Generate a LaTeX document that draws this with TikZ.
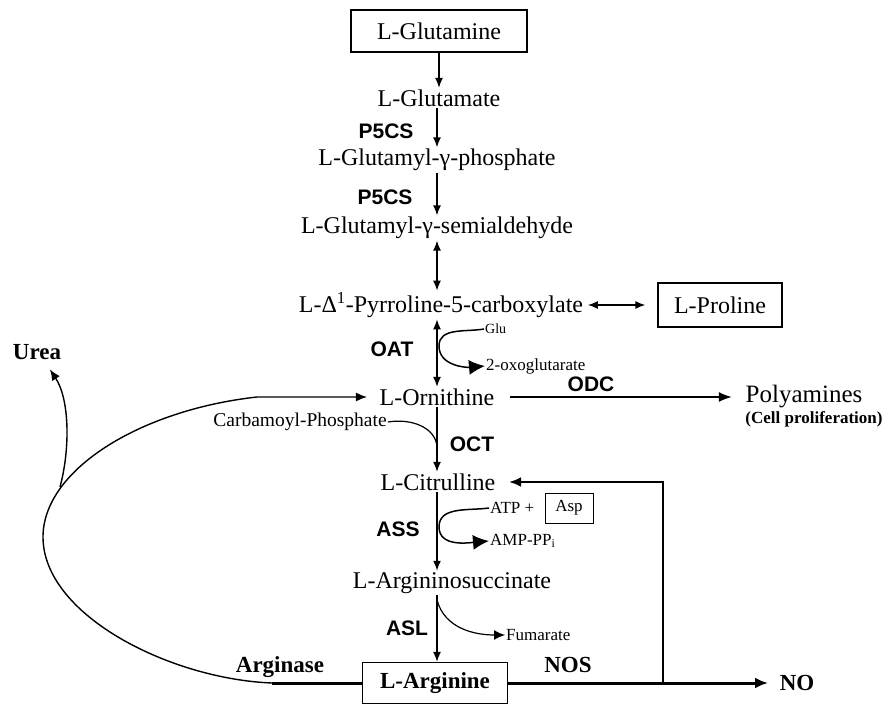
\documentclass[tikz,border=0pt]{standalone}
\usepackage{fontspec}
\setmainfont{Liberation Serif}
\newfontfamily\enzfont{Liberation Sans}
\usetikzlibrary{arrows.meta,calc}

\begin{document}
\begin{tikzpicture}[x=1pt,y=-1pt,
  mol/.style={font=\fontsize{24}{27}\selectfont, inner sep=1.5pt},
  molbox/.style={mol, draw, line width=1.2pt, inner xsep=8pt},
  boldlab/.style={font=\bfseries\fontsize{23}{26}\selectfont, inner sep=1.5pt},
  enz/.style={font=\enzfont\bfseries\fontsize{21}{24}\selectfont, inner sep=1pt},
  side/.style={font=\fontsize{17}{19}\selectfont, inner sep=1pt},
  rxn/.style={line width=1.5pt, -{Latex[length=10pt,width=8pt]}},
  rev/.style={line width=1.5pt, {Latex[length=10pt,width=8pt]}-{Latex[length=10pt,width=8pt]}},
  bigtip/.style={line width=1.5pt, -{Latex[length=16pt,width=15pt]}},
  heavy/.style={line width=3pt}
]
\useasboundingbox (0,0) rectangle (889,708);

% ---- metabolites ----
\node[molbox, minimum width=176pt, minimum height=42pt] (gln) at (439,31) {L-Glutamine};
\node[mol] (glu) at (439,98) {L-Glutamate};
\node[mol] (gp) at (437,160) {L-Glutamyl-γ-phosphate};
\node[mol] (gsa) at (437,228) {L-Glutamyl-γ-semialdehyde};
\node[mol] (p5c) at (441,305) {L-Δ\textsuperscript{1}-Pyrroline-5-carboxylate};
\node[molbox, minimum width=124pt, minimum height=44pt] (pro) at (720,305) {L-Proline};
\node[mol] (orn) at (437,397) {L-Ornithine};
\node[font=\fontsize{25}{28}\selectfont, inner sep=1.5pt] (poly) at (804,397) {Polyamines};
\node[font=\bfseries\fontsize{17}{19}\selectfont, inner sep=1pt] (cell) at (814,419) {(Cell proliferation)};
\node[font=\fontsize{19.5}{22}\selectfont, inner sep=1pt] (carb) at (300,422) {Carbamoyl-Phosphate};
\node[mol] (cit) at (438,482) {L-Citrulline};
\node[mol] (asuc) at (452,583) {L-Argininosuccinate};
\node[boldlab, draw, line width=1.2pt, minimum width=145pt, minimum height=41pt] (arg) at (435,683) {L-Arginine};
\node[boldlab] (urea) at (37,352) {Urea};
\node[boldlab] (no) at (797,683) {NO};

% ---- co-substrates and by-products ----
\node[side, font=\fontsize{14}{16}\selectfont, anchor=west] (gluin) at (484,329) {Glu};
\node[side, anchor=west] (oxo) at (485,366) {2-oxoglutarate};
\node[side, anchor=west] (atp) at (489,508) {ATP +};
\node[side, draw, line width=0.8pt, minimum width=48pt, minimum height=30pt] (asp) at (569,508) {Asp};
\node[side, anchor=west] (amp) at (489,541) {AMP-PP\textsubscript{i}};
\node[side, anchor=west] (fum) at (505,635) {Fumarate};

% ---- enzymes ----
\node[enz] (e1) at (386,131) {P5CS};
\node[enz] (e2) at (385,197) {P5CS};
\node[enz] (e3) at (392,349) {OAT};
\node[enz] (e4) at (591,384) {ODC};
\node[enz] (e5) at (472,444) {OCT};
\node[enz] (e6) at (398,529) {ASS};
\node[enz] (e7) at (407,628) {ASL};
\node[boldlab] (e8) at (280,667) {Arginase};
\node[boldlab] (e9) at (568,665) {NOS};

% ---- main pathway ----
\draw[rxn] (gln.south) -- (glu.north -| gln.south);
\draw[rxn] (glu.south -| gp.north) -- (gp.north);
\draw[rxn] (gp.south) -- (gsa.north);
\draw[rev] (gsa.south) -- (p5c.north -| gsa.south);
\draw[rev] (p5c.south -| orn.north) -- (orn.north);
\draw[rev, shorten <=3pt, shorten >=12pt] (p5c.east) -- (pro.west);
\draw[rxn] (orn.south) -- (cit.north -| orn.south);
\draw[rxn] (cit.south -| orn.south) -- (asuc.north -| orn.south);
\draw[rxn] (asuc.south -| orn.south) -- (arg.north -| orn.south);

% ---- side reactions on the main arrows ----
\coordinate (oatmid) at (439,346);
\draw[bigtip] (gluin.west) to[out=190,in=90] (oatmid) to[out=-90,in=185] (oxo.west);
\coordinate (octmid) at (437,447);
\draw[line width=1.2pt] (carb.east) .. controls (412,418) and (436,428) .. (octmid);
\coordinate (assmid) at (439,527);
\draw[bigtip] (atp.west) to[out=188,in=90] (assmid) to[out=-90,in=185] (amp.west);
\coordinate (aslmid) at (437,600);
\draw[line width=1.2pt, -{Latex[length=11pt,width=10pt]}] (aslmid) to[out=-75,in=180] (fum.west);

% ---- ornithine decarboxylation ----
\draw[line width=2pt, -{Latex[length=13pt,width=10pt]}, shorten <=14pt, shorten >=12pt] (orn.east) -- (poly.west);

% ---- arginase loop back to ornithine, urea release ----
\coordinate (argl) at (272,683);
\draw[heavy] (arg.west) -- (argl);
\draw[line width=1.4pt, -{Latex[length=11pt,width=9pt]}, shorten >=11pt]
  (argl) .. controls (170,679) and (43,615) .. (43,537)
         .. controls (43,470) and (140,410) .. (257,397) -- (orn.west);
\coordinate (fork) at (60,487);
\draw[line width=1.4pt, -{Latex[length=11pt,width=9pt]}]
  (fork) .. controls (70,450) and (70,400) .. ($(urea.south)!0.5!(urea.south east)+(0,8)$);

% ---- NOS branch and citrulline recycling ----
\draw[heavy, -{Latex[length=13pt,width=11pt]}, shorten >=10pt] (arg.east) -- (no.west);
\coordinate (nosturn) at (663,683);
\draw[line width=2.5pt, -{Latex[length=12pt,width=10pt]}, shorten >=12pt] (nosturn) |- (cit.east);
\end{tikzpicture}
\end{document}
